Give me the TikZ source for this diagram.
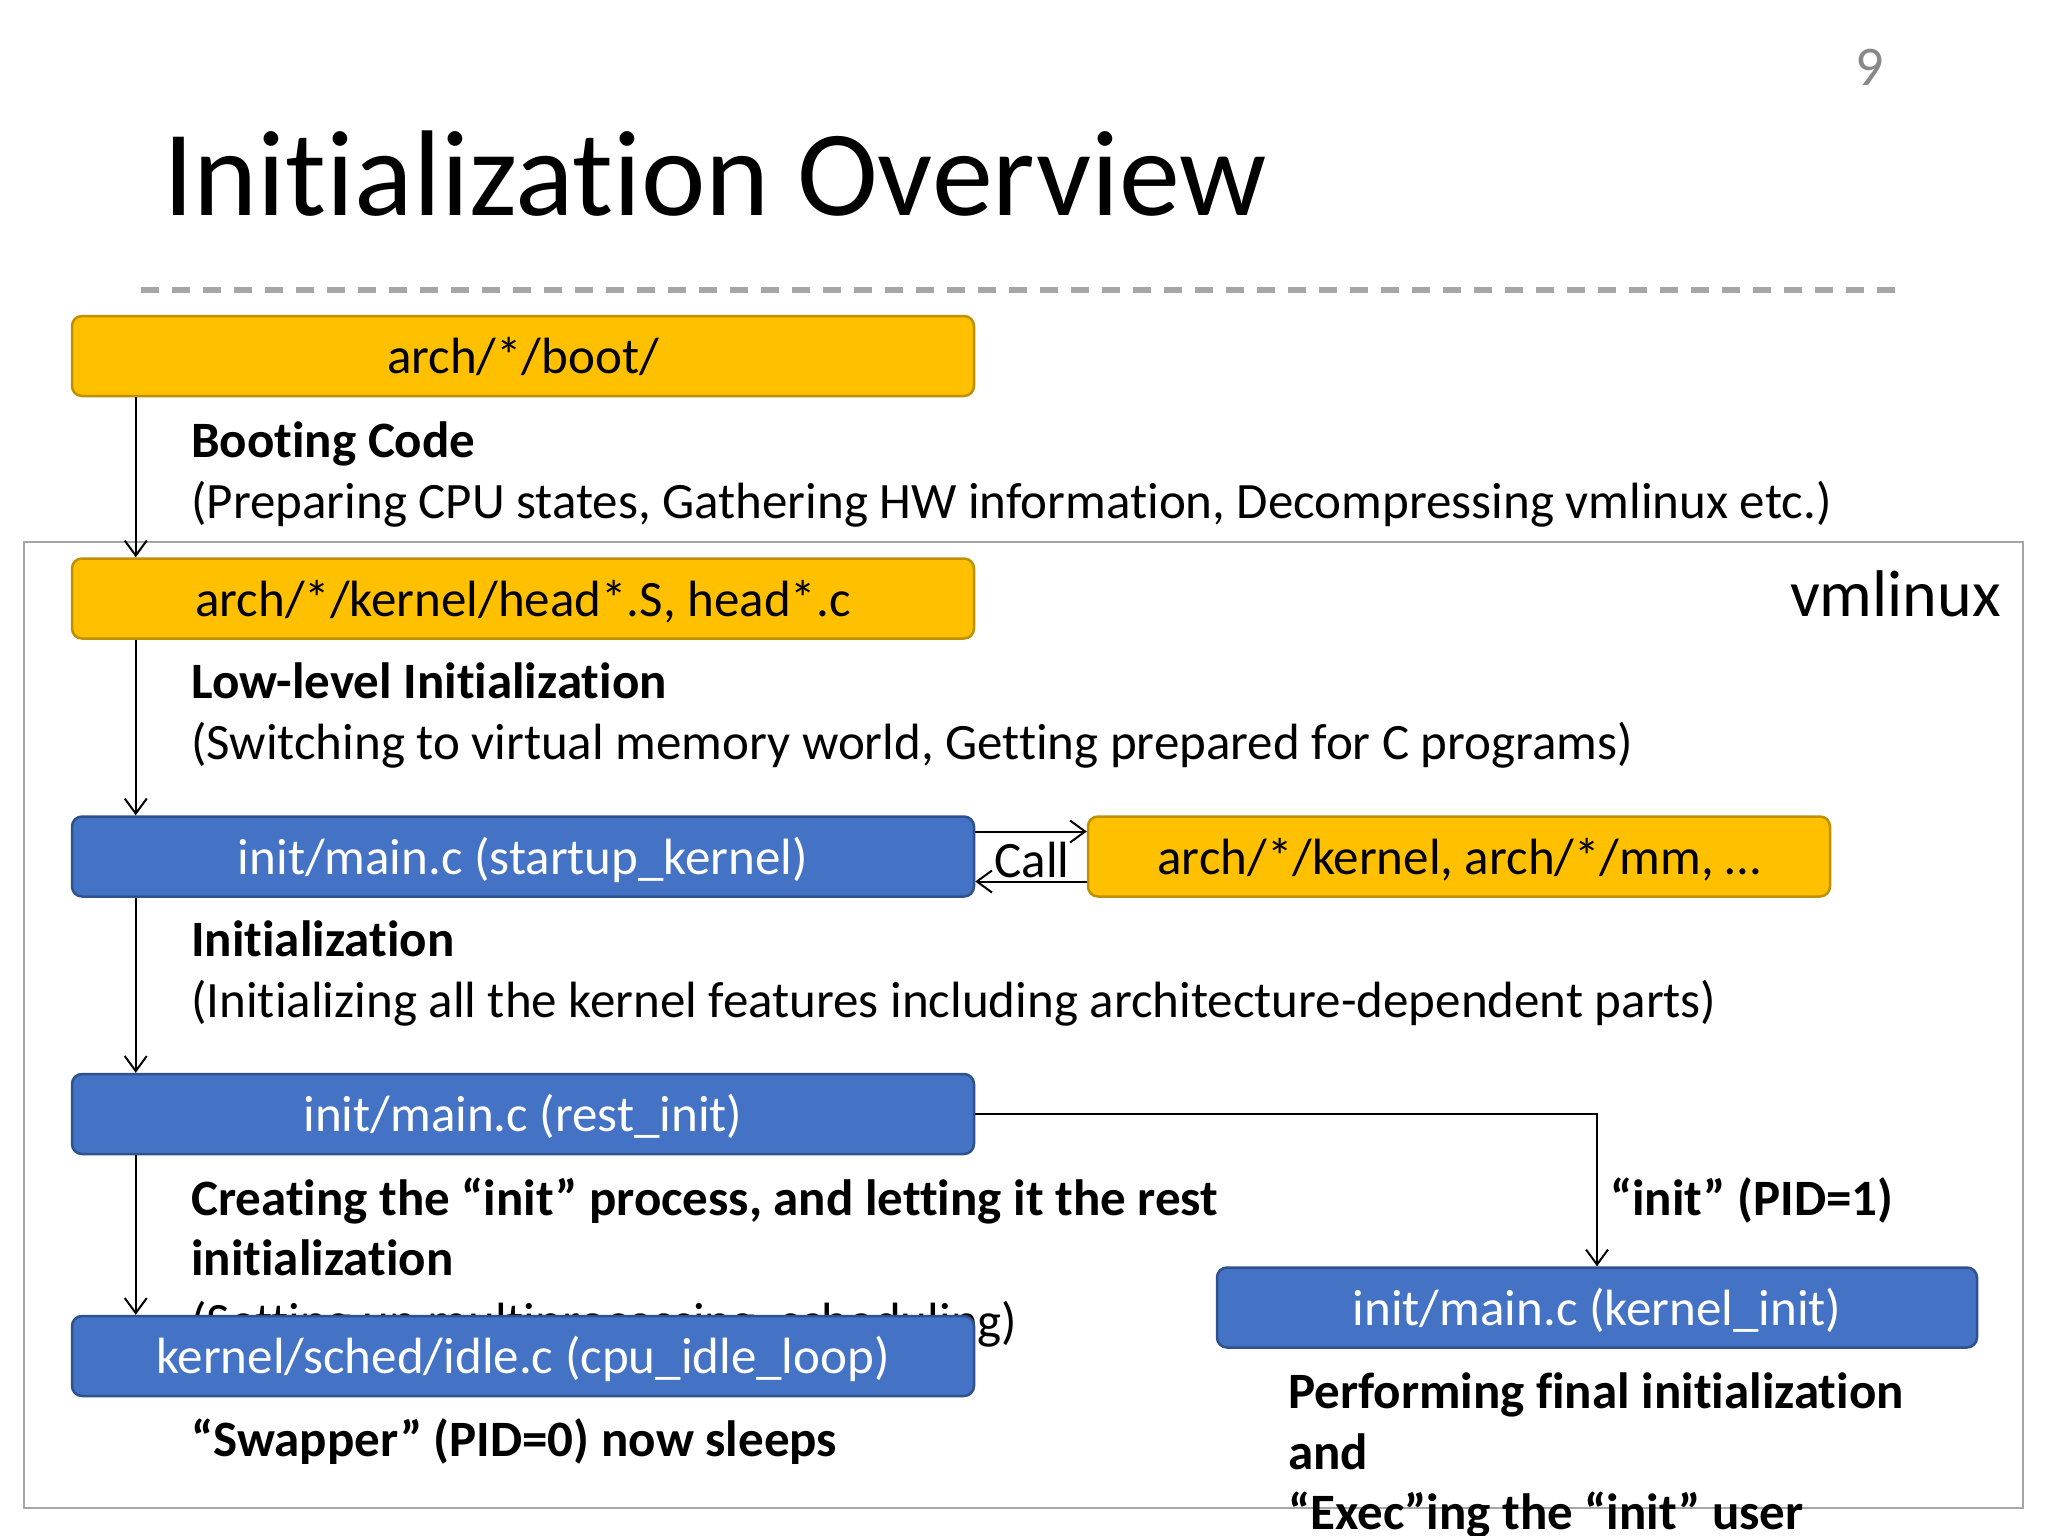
\documentclass[tikz,border=0pt]{standalone}
\usepackage{fontspec}
\setmainfont{Carlito}[Ligatures=NoCommon, Contextuals=NoAlternate]
\usetikzlibrary{arrows.meta,calc}
\definecolor{gold}{HTML}{FFC000}
\definecolor{goldline}{HTML}{BF9000}
\definecolor{blu}{HTML}{4472C4}
\definecolor{bluline}{HTML}{2F528F}
\definecolor{framegray}{HTML}{A6A6A6}
\definecolor{dashgray}{HTML}{A6A6A6}
\definecolor{pnum}{HTML}{898989}
\tikzset{
  box/.style={rounded corners=10pt, line width=2.5pt, minimum width=902pt, minimum height=80pt,
    inner sep=0pt, text height=38pt, text depth=3pt, font=\fontsize{51}{61}\selectfont},
  ybox/.style={box, fill=gold, draw=goldline},
  bbox/.style={box, fill=blu, draw=bluline, text=white},
  txt/.style={anchor=base west, inner sep=0pt, font=\fontsize{51}{61}\selectfont},
  btxt/.style={anchor=base west, inner sep=0pt, font=\fontsize{51}{61}\selectfont\bfseries},
  arr/.style={line width=2pt, -{Straight Barb[length=15pt,width=22pt]}},
}
\begin{document}
\begin{tikzpicture}[x=1pt,y=-1pt]
\useasboundingbox (0,0) rectangle (2048,1536);
\clip (0,0) rectangle (2048,1536);
\fill[white] (0,0) rectangle (2048,1536);
% page number and title
\node[anchor=base, inner sep=0pt, text=pnum, font=\fontsize{56}{60}\selectfont] (pg) at (1870,86) {9};
\node[anchor=base west, inner sep=0pt, font=\fontsize{122}{130}\selectfont] (title) at (163,215) {Initialization Overview};
\draw[dashgray, line width=6pt, dash pattern=on 18pt off 13pt] (141,290) -- (1896,290);
% vmlinux frame
\node[draw=framegray, line width=2.5pt, minimum width=1999pt, minimum height=966pt, inner sep=0pt] (vm) at (1023.5,1025) {};
\node[anchor=base east, inner sep=0pt, font=\fontsize{66}{70}\selectfont] (vmlabel) at (2001,616) {vmlinux};
% descriptive texts
\node[btxt] (t1a) at (191,457) {Booting Code};
\node[txt] (t1b) at (191,518) {(Preparing CPU states, Gathering HW information, Decompressing vmlinux etc.)};
\node[btxt] (t2a) at (191,698) {Low-level Initialization};
\node[txt] (t2b) at (191,759) {(Switching to virtual memory world, Getting prepared for C programs)};
\node[btxt] (t3a) at (191,956) {Initialization};
\node[txt] (t3b) at (191,1017) {(Initializing all the kernel features including architecture-dependent parts)};
\node[btxt] (t4a) at (191,1215) {Creating the “init” process, and letting it the rest};
\node[btxt] (t4b) at (191,1275) {initialization};
\node[txt] (t4c) at (191,1338) {(Setting up multiprocessing, scheduling)};
\node[btxt] (t5a) at (191,1456) {“Swapper” (PID=0) now sleeps};
\node[btxt] (t6a) at (1610,1215) {“init” (PID=1)};
\node[btxt] (t7a) at (1288,1408) {Performing final initialization};
\node[btxt] (t7b) at (1288,1469) {and};
\node[btxt] (t7c) at (1288,1529) {“Exec”ing the “init” user};
% boxes
\node[ybox] (boot) at (523,356) {arch/*/boot/};
\node[ybox] (head) at (523,598.5) {arch/*/kernel/head*.S, head*.c};
\node[bbox] (startup) at (523,856.5) {init/main.c (startup\_kernel)};
\node[ybox, minimum width=742pt] (archk) at (1459,856.5) {arch/*/kernel, arch/*/mm, …};
\node[bbox] (rest) at (523,1114) {init/main.c (rest\_init)};
\node[bbox] (idle) at (523,1356) {kernel/sched/idle.c (cpu\_idle\_loop)};
\node[bbox, minimum width=760pt] (kinit) at (1597,1307.5) {init/main.c (kernel\_init)};
% connectors
\draw[arr] ($(boot.south west)+(65,0)$) -- ($(head.north west)+(65,0)$);
\draw[arr] ($(head.south west)+(65,0)$) -- ($(startup.north west)+(65,0)$);
\draw[arr] ($(startup.south west)+(65,0)$) -- ($(rest.north west)+(65,0)$);
\draw[arr] ($(rest.south west)+(65,0)$) -- ($(idle.north west)+(65,0)$);
\draw[arr] ($(startup.east)+(0,-25)$) -- ($(archk.west)+(0,-25)$);
\draw[arr] ($(archk.west)+(0,25)$) -- ($(startup.east)+(0,25)$);
\node[anchor=base, inner sep=0pt, font=\fontsize{51}{61}\selectfont] (call) at (1032,877) {Call};
\draw[arr] (rest.east) -| (kinit.north);
\end{tikzpicture}
\end{document}
